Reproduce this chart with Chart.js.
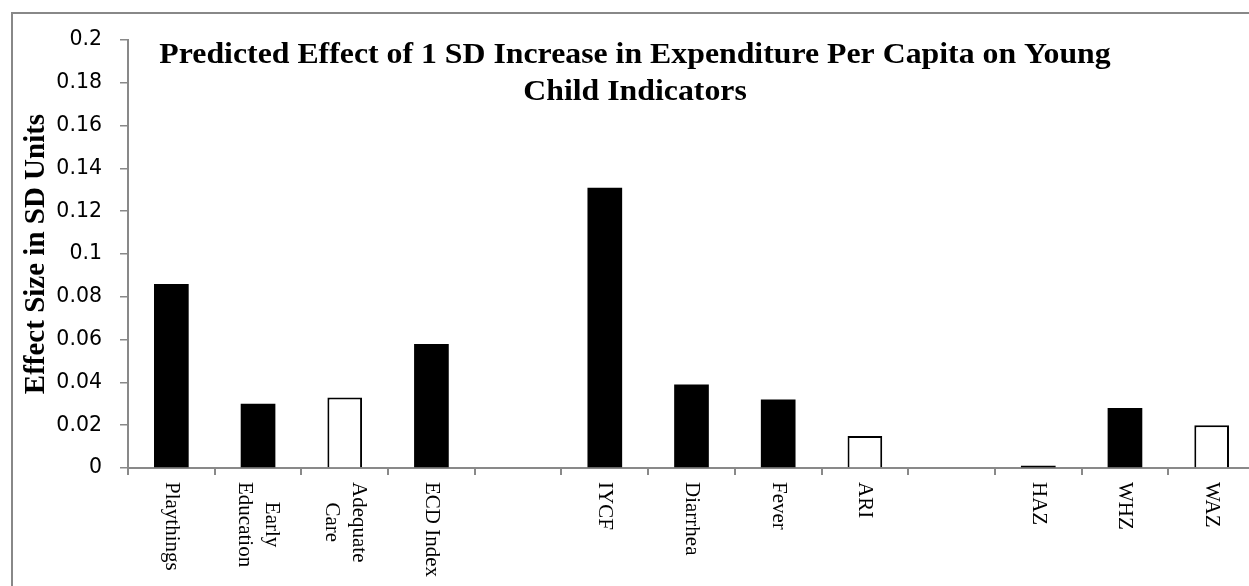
<!DOCTYPE html>
<html>
<head>
<meta charset="utf-8">
<script src="https://cdn.jsdelivr.net/npm/chart.js@4.4.1/dist/chart.umd.min.js"></script>
<style>
  html, body { margin:0; padding:0; background:#fff; overflow:hidden; }
  #frame { position:absolute; left:11px; top:12px; width:3000px; height:3000px;
           border-left:2px solid #888; border-top:2px solid #888; }
  #chart { position:absolute; left:0; top:0; }
</style>
</head>
<body>
<div id="frame"></div>
<canvas id="chart" width="1262" height="586"></canvas>
<script>
// ===== Data =====
const categories = [
  ["Playthings"], ["Early","Education"], ["Adequate","Care"], ["ECD Index"], [""],
  ["IYCF"], ["Diarrhea"], ["Fever"], ["ARI"], [""],
  ["HAZ"], ["WHZ"], ["WAZ"]
];
const effectValues = [0.086, 0.030, 0.033, 0.058, null, 0.131, 0.039, 0.032, 0.015, null, 0.001, 0.028, 0.020];
// hollow = white bar with black outline
const hollowBars = [false, false, true, false, false, false, false, false, true, false, false, false, true];
const titleLines = ["Predicted Effect of 1 SD Increase in Expenditure Per Capita on Young", "Child Indicators"];
const yAxisTitle = "Effect Size in SD Units";
const yMin = 0, yMax = 0.2, yStep = 0.02;

const GRAY = "#898989";

// title, y title and rotated category labels
const textPlugin = {
  id: "textPlugin",
  afterDraw(chart){
    const ctx = chart.ctx;
    const area = chart.chartArea;

    // title (overlaps plot area like the original)
    ctx.save();
    ctx.fillStyle = "#000";
    ctx.font = "bold 30px 'Liberation Serif', 'Times New Roman', serif";
    ctx.textAlign = "center";
    ctx.textBaseline = "alphabetic";
    const base = [63, 100];
    titleLines.forEach((t,i)=>{
      ctx.save();
      ctx.translate(635, base[i]);
      ctx.scale(1.06, 1);
      ctx.fillText(t, 0, 0);
      ctx.restore();
    });
    ctx.restore();

    // y axis title
    ctx.save();
    ctx.fillStyle = "#000";
    ctx.font = "bold 29px 'Liberation Serif', 'Times New Roman', serif";
    ctx.textAlign = "center";
    ctx.textBaseline = "alphabetic";
    ctx.translate(44, (area.top + area.bottom)/2);
    ctx.rotate(-Math.PI/2);
    ctx.fillText(yAxisTitle, 0, 0);
    ctx.restore();

    // category labels, rotated clockwise
    const xs = chart.scales.x;
    ctx.save();
    ctx.fillStyle = "#000";
    ctx.font = "21px 'Liberation Serif', 'Times New Roman', serif";
    ctx.textAlign = "center";
    ctx.textBaseline = "middle";
    const lineH = 27;
    chart.data.labels.forEach((lines,i)=>{
      const x = xs.getPixelForTick(i);
      const maxW = Math.max(...lines.map(l=>ctx.measureText(l).width));
      const top = area.bottom + 14;
      ctx.save();
      ctx.translate(x, top + maxW/2);
      ctx.rotate(Math.PI/2);
      const n = lines.length;
      lines.forEach((l,j)=>{
        ctx.fillText(l, 0, (j - (n-1)/2) * lineH);
      });
      ctx.restore();
    });
    ctx.restore();
  }
};

new Chart(document.getElementById("chart"), {
  type: "bar",
  data: {
    labels: categories,
    datasets: [{
      data: effectValues,
      backgroundColor: hollowBars.map(h => h ? "#ffffff" : "#000000"),
      borderColor: "#000000",
      borderWidth: hollowBars.map(h => h ? 2 : 0),
      barPercentage: 0.4,
      categoryPercentage: 1.0
    }]
  },
  options: {
    responsive: false,
    animation: false,
    events: [],
    layout: { padding: { left: 0, top: 40, right: 7, bottom: 0 } },
    plugins: { legend: { display:false }, tooltip: { enabled:false }, title: { display:false } },
    scales: {
      x: {
        offset: true,
        grid: { offset: true, drawOnChartArea: false, drawTicks: true, tickLength: 7, color: GRAY, lineWidth: 2 },
        border: { color: GRAY, width: 2 },
        ticks: { display: false },
        afterFit(scale){ scale.height = 118; }
      },
      y: {
        min: yMin, max: yMax,
        grid: { drawOnChartArea: false, drawTicks: true, tickLength: 8, color: GRAY, lineWidth: 1.5 },
        border: { color: GRAY, width: 2 },
        ticks: {
          stepSize: yStep,
          padding: 18,
          color: "#000",
          font: { family: "'DejaVu Sans', sans-serif", size: 20.5 },
          callback: v => String(+v.toFixed(2))
        },
        afterFit(scale){ scale.width = 128; }
      }
    }
  },
  plugins: [textPlugin]
});
</script>
</body>
</html>
